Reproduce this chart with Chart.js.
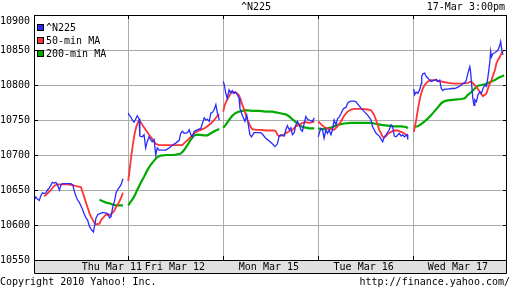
<!DOCTYPE html>
<html lang="en">
<head>
<meta charset="UTF-8">
<title>^N225 - 5 day intraday</title>
<script src="https://cdn.jsdelivr.net/npm/chart.js"></script>
<style>
  html, body { margin: 0; padding: 0; background: #fff; }
  #chart { display: block; }
</style>
</head>
<body>
<canvas id="chart" width="512" height="288"></canvas>
<script>
// x values are minutes since 9:00 of each trading day (day = 360 min)
const dayMinutes = 360;
const dayLabels = ['Thu Mar 11', 'Fri Mar 12', 'Mon Mar 15', 'Tue Mar 16', 'Wed Mar 17'];
const dayLabelAt = [298, 537, 893, 1252, 1609];
const yTicks = [10550, 10600, 10650, 10700, 10750, 10800, 10850, 10900];

const n225 = [
  [[0,10632],[4,10636],[10,10640],[16,10637],[23,10635],[29,10642],[35,10646],[42,10645],[48,10646],[54,10650],[61,10653],[67,10657],[73,10661],[80,10660],[86,10661],[92,10657],[99,10650],[105,10657],[111,10659],[124,10659],[143,10659],[150,10657],[156,10648],[162,10641],[168,10636],[175,10632],[181,10627],[187,10622],[194,10615],[200,10610],[206,10607],[213,10598],[219,10594],[228,10590],[232,10598],[238,10610],[245,10615],[251,10616],[264,10618],[276,10617],[283,10616],[289,10610],[295,10612],[302,10627],[308,10634],[314,10646],[321,10651],[327,10654],[333,10658],[340,10666]],
  [[0,10760],[4,10757],[9,10755],[15,10750],[22,10747],[28,10751],[34,10756],[41,10752],[44,10727],[53,10726],[60,10729],[66,10710],[72,10719],[79,10726],[85,10722],[91,10719],[98,10722],[104,10700],[110,10710],[117,10707],[129,10707],[142,10707],[155,10710],[167,10714],[180,10717],[193,10721],[199,10731],[205,10734],[212,10731],[224,10732],[231,10736],[237,10729],[243,10726],[250,10734],[262,10736],[275,10738],[281,10745],[288,10753],[294,10750],[300,10751],[307,10748],[313,10760],[319,10761],[326,10765],[332,10772],[338,10760],[345,10750]],
  [[0,10805],[4,10800],[9,10789],[15,10781],[22,10793],[28,10789],[34,10792],[41,10788],[47,10790],[53,10786],[60,10781],[63,10767],[72,10757],[82,10748],[89,10757],[95,10743],[101,10729],[107,10726],[117,10732],[129,10732],[142,10732],[148,10730],[161,10724],[174,10720],[186,10716],[196,10712],[205,10716],[212,10727],[218,10729],[231,10727],[237,10736],[243,10742],[250,10736],[256,10739],[262,10729],[269,10732],[275,10743],[281,10748],[288,10743],[294,10736],[300,10734],[307,10746],[313,10755],[319,10751],[326,10750],[338,10748],[345,10753]],
  [[0,10726],[5,10733],[10,10738],[16,10736],[22,10724],[29,10736],[35,10731],[41,10736],[48,10729],[54,10736],[60,10750],[67,10743],[73,10752],[79,10754],[86,10759],[92,10764],[98,10767],[105,10768],[111,10774],[117,10776],[124,10777],[136,10777],[143,10776],[149,10773],[162,10767],[174,10762],[187,10757],[200,10750],[206,10740],[212,10736],[219,10731],[231,10727],[244,10719],[250,10726],[257,10729],[269,10736],[276,10743],[282,10740],[288,10727],[295,10726],[307,10731],[314,10727],[320,10729],[326,10726],[337,10729],[339,10722]],
  [[2,10794],[5,10786],[11,10790],[17,10788],[24,10793],[30,10802],[32,10812],[36,10816],[43,10817],[49,10812],[55,10810],[62,10807],[68,10805],[74,10806],[81,10807],[87,10808],[93,10805],[100,10807],[106,10795],[112,10792],[119,10794],[131,10794],[144,10795],[157,10795],[169,10797],[182,10800],[188,10802],[195,10803],[201,10807],[207,10817],[214,10826],[217,10819],[220,10805],[226,10779],[230,10771],[233,10779],[239,10776],[245,10786],[252,10790],[258,10788],[264,10795],[271,10800],[277,10798],[283,10812],[290,10833],[293,10848],[296,10840],[302,10845],[309,10846],[315,10848],[321,10850],[328,10857],[331,10862],[336,10848],[340,10843]]
];

const ma50 = [
  [[42,10641],[54,10645],[67,10650],[80,10656],[92,10658],[111,10658],[130,10658],[150,10657],[168,10655],[181,10654],[188,10646],[194,10639],[200,10632],[207,10624],[213,10617],[219,10612],[226,10607],[232,10603],[238,10601],[251,10602],[257,10607],[264,10610],[276,10615],[289,10614],[302,10618],[308,10621],[314,10626],[321,10630],[327,10634],[333,10639],[340,10646]],
  [[0,10663],[6,10681],[12,10700],[18,10716],[24,10730],[31,10741],[40,10749],[47,10747],[55,10742],[66,10736],[79,10729],[91,10723],[104,10716],[117,10714],[136,10714],[161,10714],[186,10714],[205,10714],[212,10717],[224,10721],[237,10726],[250,10731],[262,10734],[275,10736],[288,10738],[300,10741],[313,10745],[326,10750],[338,10756],[345,10758]],
  [[0,10762],[6,10772],[15,10779],[22,10784],[28,10788],[41,10790],[53,10788],[60,10785],[66,10779],[72,10772],[79,10765],[85,10758],[91,10751],[98,10745],[104,10740],[110,10737],[123,10736],[142,10736],[161,10735],[180,10735],[193,10735],[199,10734],[205,10729],[212,10727],[224,10728],[237,10731],[250,10734],[262,10736],[275,10741],[288,10743],[300,10746],[313,10747],[326,10746],[338,10747],[345,10748]],
  [[0,10748],[10,10744],[22,10740],[35,10738],[48,10737],[60,10736],[73,10741],[86,10748],[98,10756],[111,10762],[124,10765],[136,10766],[162,10766],[187,10765],[200,10764],[212,10757],[219,10750],[225,10743],[231,10736],[238,10731],[244,10726],[250,10725],[257,10727],[263,10730],[276,10733],[288,10735],[301,10735],[314,10733],[326,10731],[339,10727]],
  [[2,10733],[11,10750],[17,10764],[24,10779],[30,10788],[36,10795],[43,10800],[55,10805],[68,10807],[81,10807],[93,10806],[106,10805],[131,10803],[157,10802],[182,10802],[207,10803],[220,10805],[233,10800],[245,10794],[258,10787],[264,10784],[271,10786],[277,10788],[283,10795],[290,10802],[296,10807],[309,10821],[315,10831],[321,10836],[328,10840],[334,10845],[340,10849]]
];

const ma200 = [
  [[251,10636],[264,10634],[276,10632],[289,10631],[302,10629],[314,10628],[327,10628],[340,10628]],
  [[0,10628],[9,10633],[22,10640],[34,10650],[47,10660],[60,10669],[72,10678],[85,10686],[98,10692],[110,10697],[123,10699],[148,10700],[174,10700],[199,10702],[212,10707],[224,10714],[237,10722],[250,10728],[262,10729],[288,10728],[300,10728],[313,10731],[326,10734],[338,10736],[345,10737]],
  [[0,10739],[9,10743],[22,10750],[34,10756],[47,10760],[60,10762],[72,10763],[85,10764],[110,10763],[136,10763],[161,10762],[186,10762],[199,10761],[212,10760],[224,10759],[237,10758],[250,10755],[262,10751],[275,10747],[288,10743],[300,10740],[313,10739],[326,10738],[345,10738]],
  [[0,10738],[10,10737],[22,10737],[48,10739],[73,10743],[98,10745],[124,10746],[149,10746],[174,10746],[200,10746],[212,10745],[225,10744],[238,10743],[263,10742],[288,10741],[314,10741],[333,10740],[339,10738]],
  [[2,10740],[17,10741],[30,10744],[43,10748],[55,10752],[68,10757],[81,10763],[93,10768],[106,10774],[119,10777],[131,10778],[157,10779],[182,10780],[195,10781],[207,10786],[220,10790],[233,10795],[245,10799],[258,10800],[271,10801],[283,10803],[296,10805],[309,10807],[321,10810],[334,10812],[344,10814]]
];

const MONO = '"DejaVu Sans Mono", "Liberation Mono", monospace';
const font = { family: MONO, size: 10, weight: 'normal' };
const gridColor = '#aaaaaa';
const colors = { n225: '#2a2aff', ma50: '#ff3333', ma200: '#00aa00' };
const yMin = 10550, yMax = 10900;

// one list per series, a null between days so the line breaks
function toPoints(days) {
  const pts = [];
  days.forEach((day, d) => {
    day.forEach(([t, v]) => pts.push({ x: d * dayMinutes + t, y: v }));
    pts.push({ x: (d + 1) * dayMinutes - 1, y: null });
  });
  return pts;
}

const frame = {
  id: 'frame',
  beforeDraw(chart) {
    const { ctx, chartArea: a } = chart;
    ctx.save();
    ctx.fillStyle = '#fff';
    ctx.fillRect(0, 0, chart.width, chart.height);
    ctx.fillStyle = '#e0e0e0';
    ctx.fillRect(a.left, a.bottom, a.right - a.left, 13);
    ctx.restore();
  },
  afterDraw(chart) {
    const { ctx, chartArea: a, scales } = chart;
    ctx.save();
    ctx.strokeStyle = '#000';
    ctx.lineWidth = 1;
    ctx.beginPath();
    // plot frame + date band
    ctx.rect(a.left + 0.5, a.top + 0.5, a.right - a.left - 1, a.bottom - a.top);
    ctx.moveTo(a.left + 0.5, a.bottom + 0.5); ctx.lineTo(a.left + 0.5, a.bottom + 13.5);
    ctx.lineTo(a.right - 0.5, a.bottom + 13.5); ctx.lineTo(a.right - 0.5, a.bottom + 0.5);
    // inward tick marks
    yTicks.forEach(v => {
      const y = Math.round(scales.y.getPixelForValue(v)) + 0.5;
      ctx.moveTo(a.left, y); ctx.lineTo(a.left + 4, y);
      ctx.moveTo(a.right - 4, y); ctx.lineTo(a.right, y);
    });
    [1, 2, 3, 4].forEach(d => {
      const x = Math.round(scales.x.getPixelForValue(d * dayMinutes)) + 0.5;
      ctx.moveTo(x, a.top); ctx.lineTo(x, a.top + 4);
      ctx.moveTo(x, a.bottom - 4); ctx.lineTo(x, a.bottom);
    });
    ctx.stroke();

    ctx.font = '10px ' + MONO;
    ctx.fillStyle = '#000';
    ctx.textBaseline = 'middle';
    ctx.textAlign = 'right';
    ctx.fillText('17-Mar 3:00pm', 505, 7);
    ctx.fillText('http://finance.yahoo.com/', 510, 282);
    ctx.textAlign = 'left';
    ctx.fillText('Copyright 2010 Yahoo! Inc.', 0, 282);

    // legend
    chart.data.datasets.forEach((ds, i) => {
      const y = 28 + i * 13;
      ctx.fillStyle = ds.borderColor;
      ctx.fillRect(38, y - 3, 5, 5);
      ctx.strokeRect(37.5, y - 3.5, 6, 6);
      ctx.fillStyle = '#000';
      ctx.fillText(ds.label, 46, y);
    });
    ctx.restore();
  }
};

new Chart(document.getElementById('chart'), {
  type: 'line',
  data: {
    datasets: [
      { label: '^N225', data: toPoints(n225), borderColor: colors.n225, borderWidth: 1.3, xAxisID: 'x', yAxisID: 'y' },
      { label: '50-min MA', data: toPoints(ma50), borderColor: colors.ma50, borderWidth: 1.8, xAxisID: 'x', yAxisID: 'y' },
      { label: '200-min MA', data: toPoints(ma200), borderColor: colors.ma200, borderWidth: 2.2, xAxisID: 'x', yAxisID: 'y' }
    ]
  },
  options: {
    responsive: false,
    animation: false,
    devicePixelRatio: 1,
    spanGaps: false,
    layout: { padding: { left: 0, right: 0, top: 0, bottom: 15 } },
    elements: { point: { radius: 0 }, line: { tension: 0 } },
    plugins: {
      legend: { display: false },
      tooltip: { enabled: false },
      title: {
        display: true, text: '^N225', color: '#000', font,
        padding: { top: 1, bottom: 2 }
      }
    },
    scales: {
      x: {
        type: 'linear', min: 3, max: 1795,
        afterBuildTicks: s => { s.ticks = [1, 2, 3, 4].map(d => ({ value: d * dayMinutes })); },
        ticks: { display: false },
        grid: { color: gridColor, drawTicks: false },
        border: { display: false },
        afterFit: s => { s.height = 0; }
      },
      xl: {
        type: 'linear', position: 'bottom', min: 3, max: 1795,
        afterBuildTicks: s => { s.ticks = dayLabelAt.map(v => ({ value: v })); },
        ticks: {
          callback: (v, i) => dayLabels[i],
          autoSkip: false, maxRotation: 0, padding: 1, color: '#000', font
        },
        grid: { display: false, drawTicks: false },
        border: { display: false },
        afterFit: s => { s.height = 13; }
      },
      // gridlines only
      y: {
        min: yMin, max: yMax,
        afterBuildTicks: s => { s.ticks = yTicks.map(v => ({ value: v })); },
        ticks: { display: false },
        grid: { color: gridColor, drawTicks: false },
        border: { display: false },
        afterFit: s => { s.width = 0; }
      },
      // price labels; the top one sits just under the frame like the original
      yl: {
        position: 'left', min: yMin, max: yMax,
        afterBuildTicks: s => { s.ticks = yTicks.map(v => ({ value: v === yMax ? v - 9 : v })); },
        ticks: { callback: (v, i) => String(yTicks[i]), padding: 4, color: '#000', font },
        grid: { display: false, drawTicks: false },
        border: { display: false },
        afterFit: s => { s.width = 34; }
      },
      yr: {
        position: 'right', min: yMin, max: yMax,
        ticks: { display: false },
        grid: { display: false, drawTicks: false },
        border: { display: false },
        afterFit: s => { s.width = 5; }
      }
    }
  },
  plugins: [frame]
});
</script>
</body>
</html>
